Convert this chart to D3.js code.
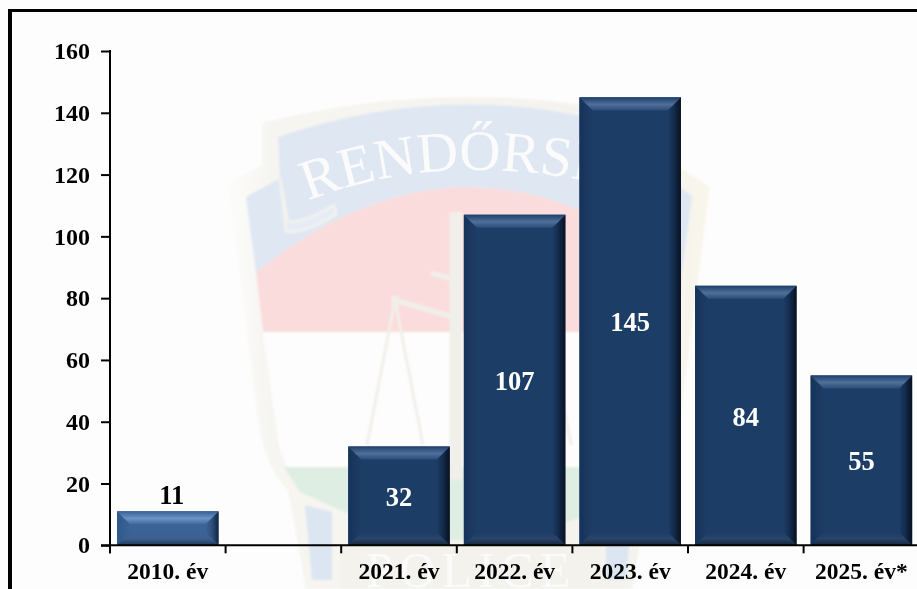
<!DOCTYPE html>
<html><head><meta charset="utf-8">
<script src="https://cdn.jsdelivr.net/npm/d3@7/dist/d3.min.js"></script>
<style>
html,body{margin:0;padding:0;background:#fff}
svg{display:block}
text{font-family:"Liberation Serif",serif;font-weight:bold}
</style></head><body>
<svg id="c" width="917" height="589"></svg>
<script>
const categories = ["2010. év", " ", "2021. év", "2022. év", "2023. év", "2024. év", "2025. év*"];
const values = [11, null, 32, 107, 145, 84, 55];
const yTickValues = [0, 20, 40, 60, 80, 100, 120, 140, 160];
const watermarkTop = "RENDŐRSÉG";
const watermarkBottom = "POLICE";

const W = 917, H = 589;
const svg = d3.select("#c");
const defs = svg.append("defs");

const x = d3.scaleBand().domain(categories).range([110, 110 + 115.6 * 7]).paddingInner(0.122).paddingOuter(0.061);
const y = d3.scaleLinear().domain([0, 160]).range([545.3, 51]);

/* ---------- page ---------- */
svg.append("rect").attr("width", W).attr("height", H).attr("fill", "#fdfdfd");

/* ---------- faded badge behind the chart ---------- */
const wm = svg.append("g").attr("class", "watermark");
defs.append("filter").attr("id", "soft").append("feGaussianBlur").attr("stdDeviation", 0.9);
defs.append("filter").attr("id", "crisp").append("feGaussianBlur").attr("stdDeviation", 0.4);
const bodyFade = defs.append("linearGradient").attr("id", "bodyFade").attr("gradientUnits", "userSpaceOnUse")
  .attr("x1", 228).attr("x2", 710).attr("y1", 0).attr("y2", 0);
[[0, "#fcfcfb"], [0.09, "#f6f5f1"], [0.85, "#f4f3ee"], [1, "#f9f6ea"]].forEach(s =>
  bodyFade.append("stop").attr("offset", s[0]).attr("stop-color", s[1]));

const wmG = wm.append("g").attr("filter", "url(#soft)");
// shield body
wmG.append("path").attr("fill", "url(#bodyFade)")
  .attr("d", "M262,123 Q469,71 676,123 L676,165 L710,187 L680,420 Q672,470 650,490 L632,589 L306,589 L288,490 Q266,470 258,420 L228,182 L262,165 Z");
wmG.append("path").attr("fill", "#fdfdfd")
  .attr("d", "M263,332 L675,332 L660,440 Q654,470 640,482 L298,482 Q284,470 278,440 Z");
// red field
wmG.append("path").attr("fill", "#fbdcdc")
  .attr("d", "M256,272 Q469,102 682,272 L675,332 L263,332 Z");
// blue ribbon
wmG.append("path").attr("fill", "#dfe7f3")
  .attr("d", "M278,137 Q469,72 660,137 L660,172 L692,196 L682,272 Q469,102 256,272 L246,197 L280,178 Z");
// ribbon fold
wmG.append("path").attr("fill", "#e6ecf5").attr("stroke", "#f3f3ef").attr("stroke-width", 2.5)
  .attr("d", "M280,178 L286,232 Q310,232 336,214 L334,205 Q306,222 288,222 Z");
// green field
wmG.append("path").attr("fill", "#dfeee3")
  .attr("d", "M284,467 L654,467 L640,492 L600,510 L520,540 L420,540 L340,510 L300,492 Z");
// lower band
wmG.append("path").attr("fill", "#f3f2ec")
  .attr("d", "M340,546 L600,546 L600,589 L340,589 Z");
// light blue side blocks
wmG.append("path").attr("fill", "#dce6f2")
  .attr("d", "M305,505 L332,512 L332,580 L312,580 Z");
wmG.append("path").attr("fill", "#dce6f2")
  .attr("d", "M633,505 L606,512 L606,580 L626,580 Z");
// scale and post
const post = wmG.append("g").attr("fill", "none").attr("stroke", "#f1efe9").attr("stroke-width", 3);
post.append("path").attr("stroke-width", 13).attr("d", "M456,212 L456,480");
post.append("path").attr("stroke-width", 5).attr("d", "M450,222 L458,226 M431,273 L456,280 M395,300 L456,318 M543,300 L482,318");
post.append("path").attr("d", "M395,300 L367,445 M395,300 L423,445 M543,300 L515,445 M543,300 L571,445");
post.append("path").attr("stroke-width", 7).attr("d", "M395,296 L395,308");
// wording
defs.append("path").attr("id", "arc").attr("d", "M308,201 Q469,137 680,205");
wm.append("text").attr("font-size", 57).attr("fill", "#fbfbfb").style("font-weight", "normal")
  .append("textPath").attr("href", "#arc").text(watermarkTop);
wm.append("text").attr("x", 471).attr("y", 587).attr("text-anchor", "middle").attr("font-size", 50)
  .attr("letter-spacing", 6).attr("fill", "#fbfbfb").style("font-weight", "normal").text(watermarkBottom);

/* ---------- frame ---------- */
svg.append("rect").attr("x", 8).attr("y", 9).attr("width", W - 8).attr("height", 3).attr("fill", "#000");
svg.append("rect").attr("x", 8).attr("y", 9).attr("width", 4).attr("height", H - 9).attr("fill", "#000");

const chart = svg.append("g").attr("filter", "url(#crisp)");

/* ---------- bevel gradients ---------- */
function grad(id, x2, y2, stops) {
  const g = defs.append("linearGradient").attr("id", id).attr("x1", 0).attr("y1", 0).attr("x2", x2).attr("y2", y2);
  stops.forEach(s => g.append("stop").attr("offset", s[0]).attr("stop-color", s[1]));
}
grad("top0", 0, 1, [[0, "#1f3f6c"], [0.55, "#4f7099"], [1, "#2c4c79"]]);
grad("right0", 1, 0, [[0, "#1d3c66"], [0.5, "#132a4a"], [1, "#051120"]]);
grad("left0", 1, 0, [[0, "#17345a"], [1, "#1d3c66"]]);
grad("bot0", 0, 1, [[0, "#1d3c66"], [0.5, "#2a4467"], [1, "#14253e"]]);
grad("top1", 0, 1, [[0, "#386194"], [0.55, "#6d93c6"], [1, "#43699c"]]);
grad("right1", 1, 0, [[0, "#3a6397"], [0.5, "#2d4f7b"], [1, "#142640"]]);
grad("left1", 1, 0, [[0, "#2f5888"], [1, "#3a6397"]]);
grad("bot1", 0, 1, [[0, "#3a6397"], [0.5, "#3c5f8c"], [1, "#1f3a5f"]]);

/* ---------- bars ---------- */
const rows = categories.map((c, i) => ({ c, v: values[i], i })).filter(d => d.v !== null);
const bev = 13;
const bars = chart.append("g").selectAll("g").data(rows).join("g");
bars.each(function (d) {
  const g = d3.select(this);
  const l = x(d.c), r = l + x.bandwidth(), t = y(d.v), b = y(0);
  const k = d.i === 0 ? 1 : 0;
  const e = Math.min(bev, (b - t) / 2);
  const pts = a => a.map(p => p.join(",")).join(" ");
  g.append("rect").attr("x", l).attr("y", t).attr("width", r - l).attr("height", b - t)
    .attr("fill", k ? "#3a6397" : "#1d3c66");
  g.append("polygon").attr("fill", `url(#left${k})`).attr("points", pts([[l, t], [l + e, t + e], [l + e, b - e], [l, b]]));
  g.append("polygon").attr("fill", `url(#right${k})`).attr("points", pts([[r, t], [r - e, t + e], [r - e, b - e], [r, b]]));
  g.append("polygon").attr("fill", `url(#bot${k})`).attr("points", pts([[l, b], [l + e, b - e], [r - e, b - e], [r, b]]));
  g.append("polygon").attr("fill", `url(#top${k})`).attr("points", pts([[l, t], [r, t], [r - e, t + e], [l + e, t + e]]));
});

/* ---------- data labels ---------- */
chart.append("g").selectAll("text").data(rows).join("text")
  .attr("x", d => x(d.c) + x.bandwidth() / 2 + (d.i === 0 ? 4 : 0))
  .attr("y", d => d.i === 0 ? y(d.v) - 7 : (y(d.v) + y(0)) / 2 + 10)
  .attr("text-anchor", "middle").attr("font-size", 26.5)
  .attr("fill", d => d.i === 0 ? "#000" : "#fff")
  .text(d => d.v);

/* ---------- axes ---------- */
const yAxis = chart.append("g").attr("transform", "translate(110,0)")
  .call(d3.axisLeft(y).tickValues(yTickValues).tickSize(9).tickPadding(11));
yAxis.selectAll("text").attr("font-size", 24).attr("fill", "#000").attr("font-family", null);
yAxis.selectAll("line").attr("stroke", "#000").attr("stroke-width", 2);
yAxis.select(".domain").attr("stroke", "#000").attr("stroke-width", 2).attr("d", `M0,${y(160) - 1}V${y(0) + 8}`);

const xAxis = chart.append("g").attr("transform", `translate(0,${y(0)})`)
  .call(d3.axisBottom(x).tickSize(0).tickPadding(17));
xAxis.selectAll("text").attr("font-size", 23.5).attr("fill", "#000").attr("font-family", null);
xAxis.select(".domain").attr("stroke", "#000").attr("stroke-width", 2)
  .attr("d", `M${x.range()[0] - 9},0H${W}`);
xAxis.append("g").selectAll("line").data(categories).join("line")
  .attr("x1", d => x(d) - x.step() * x.paddingInner() / 2)
  .attr("x2", d => x(d) - x.step() * x.paddingInner() / 2)
  .attr("y1", 0).attr("y2", 8).attr("stroke", "#000").attr("stroke-width", 2);
</script>
</body></html>
